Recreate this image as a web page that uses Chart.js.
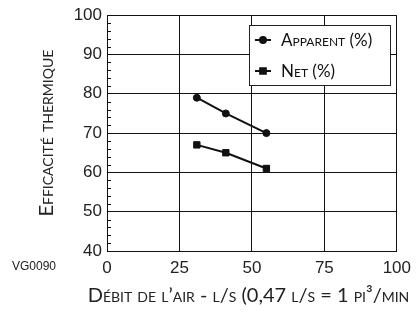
<!DOCTYPE html>
<html>
<head>
<meta charset="utf-8">
<script src="https://cdn.jsdelivr.net/npm/chart.js@4/dist/chart.umd.min.js"></script>
<style>
  html, body { margin: 0; padding: 0; background: #fff; }
  #wrap { width: 418px; height: 312px; }
</style>
</head>
<body>
<div id="wrap"><canvas id="effChart" width="418" height="312"></canvas></div>
<script>
// air flow (l/s) and efficiency readings
const airFlow = [31, 41, 55];
const apparentPct = [79, 75, 70];
const netPct = [67, 65, 61];
const seriesNames = ['Apparent (%)', 'Net (%)'];
const yTicks = [40, 50, 60, 70, 80, 90, 100];
const xTicks = [0, 25, 50, 75, 100];
const xTitle = 'Débit de l\u2019air - l/s (0,47 l/s = 1 pi\u00b3/min';
const yTitle = 'Efficacité thermique';
const footNote = 'VG0090';

const titleFont = 'Lato';
const tickFont = '"Liberation Sans", Arial, sans-serif';

function toPoints(xs, ys) {
    return xs.map((x, i) => ({ x: x, y: ys[i] }));
}

// minor ticks on y axis, the legend box, x title and the figure code
const extras = {
    id: 'extras',
    afterDraw(chart) {
        const ctx = chart.ctx;
        const y = chart.scales.y;
        const left = chart.chartArea.left;
        ctx.save();
        ctx.strokeStyle = '#111';
        ctx.lineWidth = 1;
        for (let v = y.min; v <= y.max; v += 2) {
            if (v % 10 === 0) continue;
            const py = Math.round(y.getPixelForValue(v)) + 0.5;
            ctx.beginPath();
            ctx.moveTo(left, py);
            ctx.lineTo(left + 4, py);
            ctx.stroke();
        }

        // legend
        const bx = 249.5, by = 25.5, bw = 141, bh = 60;
        ctx.fillStyle = '#fff';
        ctx.fillRect(bx, by, bw, bh);
        ctx.strokeStyle = '#222';
        ctx.strokeRect(bx, by, bw, bh);
        chart.data.datasets.forEach((ds, i) => {
            const ly = 40 + i * 31;
            ctx.strokeStyle = '#111';
            ctx.lineWidth = 2;
            ctx.beginPath();
            ctx.moveTo(255, ly);
            ctx.lineTo(271, ly);
            ctx.stroke();
            Chart.helpers.drawPoint(ctx, {
                pointStyle: ds.pointStyle,
                radius: ds.pointStyle === 'rect' ? 4 : 3,
                borderWidth: 1
            }, 263, ly);
            ctx.fillStyle = '#111';
            ctx.fill();
            ctx.font = 'small-caps 17px ' + titleFont;
            ctx.textBaseline = 'middle';
            ctx.textAlign = 'left';
            ctx.fillText(ds.label, 281, ly + 1);
        });

        // x axis title (wider than the plot, sits a bit left of its centre)
        ctx.font = 'small-caps 20px ' + titleFont;
        ctx.fillStyle = '#222';
        ctx.textAlign = 'center';
        ctx.textBaseline = 'middle';
        ctx.fillText(xTitle, 248.5, 296);

        ctx.font = '12px ' + tickFont;
        ctx.textAlign = 'left';
        ctx.fillText(footNote, 12, 267);
        ctx.restore();
    }
};

const ctx = document.getElementById('effChart').getContext('2d');
const chart = new Chart(ctx, {
    type: 'scatter',
    data: {
        datasets: [{
            label: seriesNames[0],
            data: toPoints(airFlow, apparentPct),
            showLine: true,
            borderColor: '#111',
            backgroundColor: '#111',
            borderWidth: 2,
            pointStyle: 'circle',
            pointRadius: 3.5,
            pointBorderWidth: 1
        }, {
            label: seriesNames[1],
            data: toPoints(airFlow, netPct),
            showLine: true,
            borderColor: '#111',
            backgroundColor: '#111',
            borderWidth: 2,
            pointStyle: 'rect',
            pointRadius: 4.5,
            pointBorderWidth: 1
        }]
    },
    options: {
        responsive: false,
        animation: false,
        layout: { padding: { left: 0, right: 16, top: 15, bottom: 0 } },
        plugins: {
            legend: { display: false },
            tooltip: { enabled: false }
        },
        scales: {
            x: {
                type: 'linear',
                min: 0,
                max: 100,
                afterBuildTicks: (s) => { s.ticks = xTicks.map(v => ({ value: v })); },
                afterFit: (s) => { s.height = 61; },
                border: { color: '#111', width: 1 },
                grid: { color: '#111', lineWidth: 1, drawTicks: false },
                ticks: {
                    color: '#222',
                    padding: 7,
                    font: { family: tickFont, size: 17 }
                }
            },
            y: {
                min: 40,
                max: 100,
                afterBuildTicks: (s) => { s.ticks = yTicks.map(v => ({ value: v })); },
                afterFit: (s) => { s.width = 107; },
                border: { color: '#111', width: 1 },
                grid: { color: '#111', lineWidth: 1, drawTicks: false },
                ticks: {
                    color: '#222',
                    padding: 5,
                    font: { family: tickFont, size: 17 }
                },
                title: {
                    display: true,
                    text: yTitle,
                    color: '#222',
                    font: { family: titleFont, size: 20, weight: 'small-caps' },
                    padding: { top: 35, bottom: 0 }
                }
            }
        }
    },
    plugins: [extras]
});
</script>
</body>
</html>
